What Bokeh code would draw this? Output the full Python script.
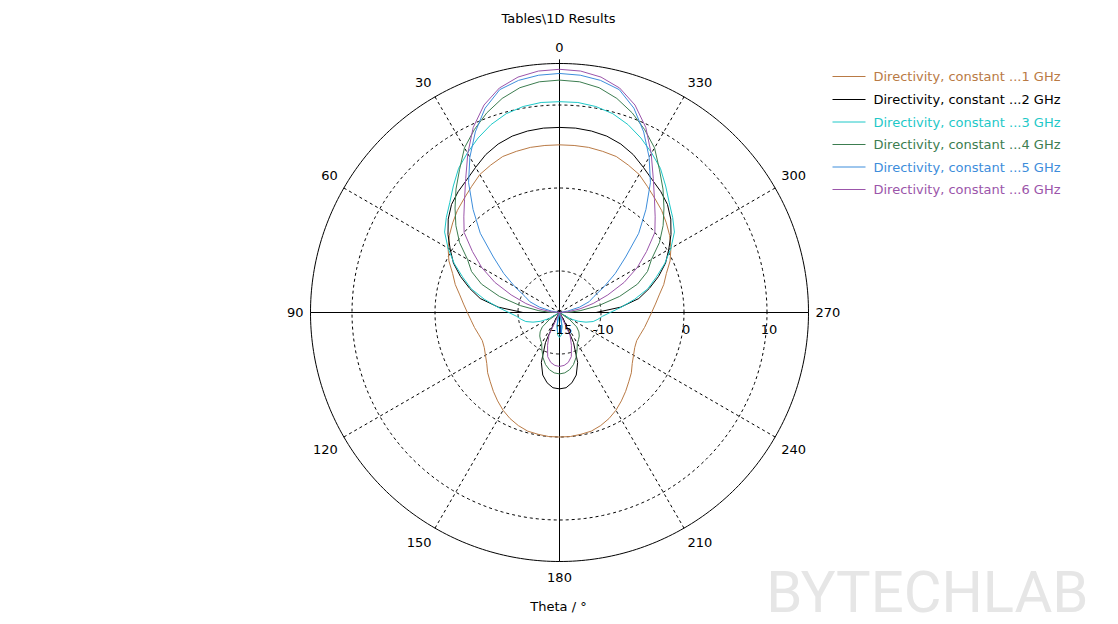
import numpy as np
from bokeh.plotting import figure
from bokeh.embed import file_html
from bokeh.resources import INLINE
from bokeh.core.properties import value

# ---------------- data (theta in degrees, directivity in dBi) ----------------
theta_deg = list(range(0, 181, 5))

dir_1ghz = [5.2, 5.2, 5.2, 5.1, 5.0, 4.6, 4.2, 3.5, 2.9, 2.4, 1.8, 1.2, 0.5, -0.3, -1.3, -2.0,
            -2.8, -3.4, -3.9, -4.3, -4.6, -4.9, -5.1, -5.0, -4.7, -4.3, -3.7, -3.2, -2.6, -2.0,
            -1.4, -0.9, -0.5, -0.2, -0.1, 0.0, 0.0]
dir_2ghz = [7.3, 7.3, 7.2, 7.0, 6.6, 6.0, 5.2, 4.5, 4.0, 3.4, 2.5, 1.4, 0.2, -0.9, -2.3, -3.8,
            -5.3, -7.6, -10.6, -15, -15, -15, -15, -15, -15, -15, -15, -15, -15, -15,
            -14.0, -11.0, -8.6, -7.2, -6.4, -5.9, -5.8]
dir_3ghz = [10.4, 10.4, 10.2, 9.8, 9.1, 8.2, 7.2, 6.2, 4.9, 3.7, 2.8, 1.9, 0.5, -1.0, -2.6, -4.0,
            -5.8, -7.5, -8.9, -9.8, -10.3, -10.8, -11.6, -12.5, -13.5, -15, -15, -15, -15, -15,
            -15, -15, -15, -15, -13.5, -12.3, -12.0]
dir_4ghz = [13.0, 12.9, 12.5, 11.7, 10.6, 9.3, 7.9, 6.0, 4.4, 2.8, 1.3, -0.3, -2.2, -3.3, -5.0, -7.5,
            -10.2, -12.5, -14.0, -15, -15, -15, -15, -15, -15, -13.5, -12.3, -11.7, -11.3, -11.0,
            -10.7, -10.0, -9.2, -8.5, -8.0, -7.7, -7.6]
dir_5ghz = [13.8, 13.7, 13.4, 12.8, 11.2, 9.0, 6.6, 4.1, 1.2, -1.5, -4.6, -6.8, -8.8, -10.4, -11.2, -12.5,
            -14.0, -15, -15, -15, -15, -15, -15, -15, -15, -15, -15, -15, -15, -15,
            -15, -15, -15, -14.2, -13.2, -12.6, -12.4]
dir_6ghz = [14.3, 14.2, 13.8, 13.0, 11.6, 9.6, 7.1, 4.7, 2.8, 1.3, 0.0, -2.2, -4.2, -6.4, -8.8, -10.8,
            -12.5, -14.0, -15, -15, -15, -15, -15, -15, -15, -15, -15, -15, -15, -15,
            -15, -12.0, -10.8, -9.5, -8.9, -8.6, -8.5]

series = [dir_1ghz, dir_2ghz, dir_3ghz, dir_4ghz, dir_5ghz, dir_6ghz]
series_labels = ["Directivity, constant ...1 GHz", "Directivity, constant ...2 GHz",
                 "Directivity, constant ...3 GHz", "Directivity, constant ...4 GHz",
                 "Directivity, constant ...5 GHz", "Directivity, constant ...6 GHz"]
colors = ["#b97a45", "#000000", "#1ec8c8", "#3c7d50", "#3d8ddb", "#9b55aa"]

angle_ticks = list(range(0, 360, 30))
radial_ticks = [-15, -10, 0, 10]
radial_rings = [-10, 0, 10]
r_min, r_max = -15, 15

title_text = "Tables\\1D Results"
axis_title = "Theta / \u00b0"
watermark = "BYTECHLAB"

# ---------------- geometry ----------------
W, H = 1110, 624
S = 8.3                 # pixels per dB
cx, cy = 559, 312       # centre of polar area in figure pixels
FONT = value("DejaVu Sans")

p = figure(width=W, height=H, output_backend="svg", toolbar_location=None,
           x_range=(-cx / S, (W - cx) / S), y_range=(-(H - cy) / S, cy / S),
           x_axis_location=None, y_axis_location=None, min_border=0)
p.grid.visible = False
p.outline_line_color = None
p.background_fill_color = "white"
p.border_fill_color = "white"

R = r_max - r_min


def px_to_dx(px):
    return (px - cx) / S


def py_to_dy(py):
    return (cy - py) / S


# watermark (drawn first, behind everything)
p.text(x=[px_to_dx(1088)], y=[py_to_dy(591)], text=[watermark], text_font=value("Roboto"),
       text_font_size="58px", text_align="right", text_baseline="middle", text_color="#e6e6e6")

# rings
t = np.linspace(0, 2 * np.pi, 361)
for db in radial_rings:
    rr = db - r_min
    p.line(rr * np.cos(t), rr * np.sin(t), line_color="black", line_width=1, line_dash="3 3")
p.line(R * np.cos(t), R * np.sin(t), line_color="black", line_width=1)

# spokes
for a in angle_ticks:
    if a % 90 == 0:
        continue
    ar = np.radians(a)
    p.line([0, -R * np.sin(ar)], [0, R * np.cos(ar)], line_color="black", line_width=1, line_dash="3 3")
p.line([0, 0], [-R, R + 0.5], line_color="black", line_width=1)
p.line([-R, R], [0, 0], line_color="black", line_width=1)

# curves
for vals, col in zip(series, colors):
    th = theta_deg + [360 - a for a in reversed(theta_deg[:-1])]
    vv = vals + list(reversed(vals[:-1]))
    th = np.radians(np.array(th, dtype=float))
    rr = np.clip(np.array(vv, dtype=float), r_min, r_max) - r_min
    p.line(-rr * np.sin(th), rr * np.cos(th), line_color=col, line_width=1)

# angle labels, anchored by their nearest edge just outside the outer circle
lab_r = 30.85
dy_extra = 4.0 / S
for a in angle_ticks:
    ar = np.radians(a)
    sx, sy = -np.sin(ar), np.cos(ar)
    lx, ly = lab_r * sx, lab_r * sy
    if abs(sx) < 1e-6:
        align = "center"
    elif sx < 0:
        align = "right"
    else:
        align = "left"
    if abs(sy) < 1e-6:
        base = "middle"
    elif sy > 0:
        base = "bottom"
        ly += dy_extra
    else:
        base = "top"
        ly -= dy_extra
    p.text(x=[lx], y=[ly], text=[str(a)], text_font=FONT, text_font_size="13px",
           text_align=align, text_baseline=base, text_color="black")

# radial labels
rx = [(v - r_min) + 0.25 for v in radial_ticks]
ry = [-2.05] * len(radial_ticks)
p.text(x=rx, y=ry, text=[str(v) for v in radial_ticks], text_font=FONT, text_font_size="13px",
       text_align="center", text_baseline="middle", text_color="black")

# title / axis title
p.text(x=[px_to_dx(558)], y=[py_to_dy(18)], text=[title_text], text_font=FONT, text_font_size="13px",
       text_align="center", text_baseline="middle", text_color="black")
p.text(x=[px_to_dx(558)], y=[py_to_dy(606)], text=[axis_title], text_font=FONT, text_font_size="13px",
       text_align="center", text_baseline="middle", text_color="black")

# legend
leg_y_px = [76, 99, 121.5, 144, 166.5, 189]
for lab, col, ypx in zip(series_labels, colors, leg_y_px):
    yy = py_to_dy(ypx)
    p.line([px_to_dx(832), px_to_dx(865)], [yy, yy], line_color=col, line_width=1)
    p.text(x=[px_to_dx(873)], y=[yy], text=[lab], text_font=FONT, text_font_size="13px",
           text_align="left", text_baseline="middle", text_color=col)

open("out.html", "w").write(file_html(p, INLINE))
